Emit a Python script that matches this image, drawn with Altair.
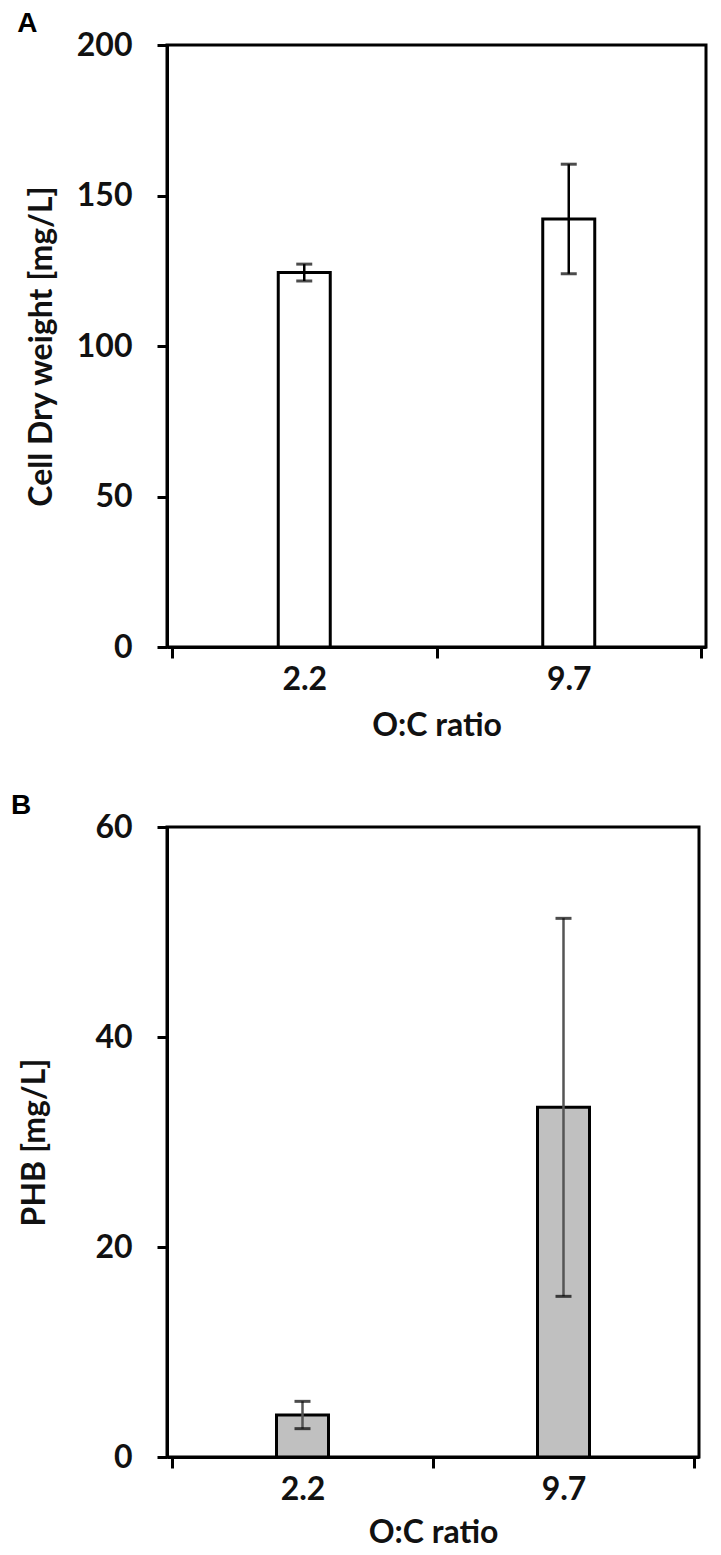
import altair as alt
import pandas as pd

categories = ["2.2", "9.7"]
cdw_values = [124.4, 142.2]
cdw_errors = [2.8, 18.2]
phb_values = [4.0, 33.3]
phb_errors = [1.3, 18.0]

FONT = "Lato"
LAB = 32
TIT = 32


def make_df(vals, errs):
    return pd.DataFrame({
        "ratio": categories,
        "pos": [i + 0.5 for i in range(len(categories))],
        "value": vals,
        "lo": [v - e for v, e in zip(vals, errs)],
        "hi": [v + e for v, e in zip(vals, errs)],
    })


def label_expr():
    expr = "''"
    for i in reversed(range(len(categories))):
        expr = f"floor(datum.value) == {i} ? '{categories[i]}' : ({expr})"
    return expr


def panel(df, letter, ytitle, ymax, ystep, fill, err_color, width, height,
          title_pad, xtitle_pad):
    n = len(categories)
    xscale = alt.Scale(domain=[0, n], nice=False, zero=False)
    yscale = alt.Scale(domain=[0, ymax], nice=False)
    base = alt.Chart(df)

    yaxis = alt.Axis(
        values=list(range(0, ymax + 1, ystep)), title=ytitle, grid=False,
        labelFont=FONT, labelFontSize=LAB, labelFontWeight="bold", labelColor="#111",
        labelPadding=25, tickSize=10, tickWidth=3, tickColor="black",
        domainColor="black", domainWidth=3,
        titleFont=FONT, titleFontSize=TIT, titleFontWeight="bold", titleColor="#111",
        titlePadding=title_pad,
    )
    tick_axis = alt.Axis(
        values=list(range(0, n + 1)), labels=False, title=None, grid=False,
        tickSize=11, tickWidth=3, tickColor="black", domainColor="black", domainWidth=3,
        orient="bottom",
    )
    lab_axis = alt.Axis(
        values=[i + 0.5 for i in range(n)], labelExpr=label_expr(), ticks=False,
        domain=False, grid=False, orient="bottom", title="O:C ratio",
        labelFont=FONT, labelFontSize=LAB, labelFontWeight="bold", labelColor="#111",
        labelPadding=17, titleFont=FONT, titleFontSize=TIT, titleFontWeight="bold",
        titleColor="#111", titlePadding=xtitle_pad,
    )

    bars = base.mark_bar(size=52, fill=fill, stroke="black", strokeWidth=3).encode(
        x=alt.X("pos:Q", scale=xscale, axis=tick_axis),
        y=alt.Y("value:Q", scale=yscale, axis=yaxis),
    )
    rule = base.mark_rule(color=err_color, strokeWidth=2.5).encode(
        x=alt.X("pos:Q", scale=xscale, axis=lab_axis),
        y=alt.Y("lo:Q", scale=yscale, axis=yaxis),
        y2="hi:Q",
    )
    cap_lo = base.mark_tick(orient="horizontal", size=16, thickness=3, color="black").encode(
        x=alt.X("pos:Q", scale=xscale, axis=None),
        y=alt.Y("lo:Q", scale=yscale, axis=yaxis),
    )
    cap_hi = base.mark_tick(orient="horizontal", size=16, thickness=3, color="black").encode(
        x=alt.X("pos:Q", scale=xscale, axis=None),
        y=alt.Y("hi:Q", scale=yscale, axis=yaxis),
    )
    return alt.layer(bars, rule, cap_lo, cap_hi).resolve_axis(x="independent").properties(
        width=width, height=height,
        title=alt.TitleParams(
            text=letter, anchor="start", frame="bounds", font="Liberation Sans",
            fontSize=28, fontWeight="bold", color="black", dx=-8, offset=-9,
        ),
    )


pa = panel(make_df(cdw_values, cdw_errors), "A", "Cell Dry weight [mg/L]", 200, 50,
           "white", "black", 539, 602, 18, 15)
pb = panel(make_df(phb_values, phb_errors), "B", "PHB [mg/L]", 60, 20,
           "#c0c0c0", "#555555", 532, 630, 43, 12)

chart = alt.concat(pa, pb, columns=1, spacing=47, align="none").properties(
    padding={"left": 1, "top": 0, "right": 5, "bottom": 0}
).configure_view(stroke="black", strokeWidth=3)

chart.save("out.html", embed_options={"renderer": "svg", "actions": False})
